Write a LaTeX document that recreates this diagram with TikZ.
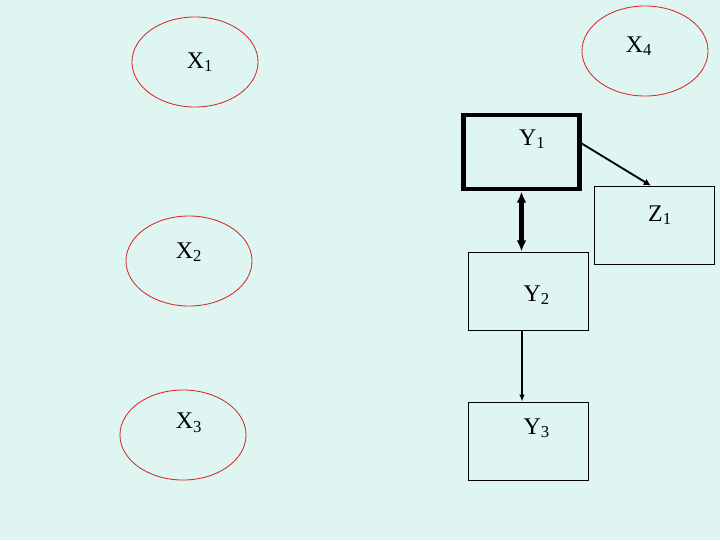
\documentclass[tikz,border=0pt]{standalone}
\usepackage{fontspec}
\setmainfont{Liberation Serif}
\usepackage{tikz}
\usetikzlibrary{shapes.geometric,arrows.meta}
\definecolor{bgcol}{RGB}{222,245,242}
\definecolor{ovalred}{RGB}{214,40,40}

\begin{document}
\begin{tikzpicture}[
x=0.025cm, y=-0.025cm,
var/.style={ellipse, draw=ovalred, line width=0.6pt, minimum width=3.15cm, minimum height=2.25cm},
box/.style={draw, line width=0.6pt, minimum width=3cm, minimum height=1.95cm},
tag/.style={font=\fontsize{17}{20}\selectfont},
>=Latex
]
\fill[bgcol] (0,0) rectangle (720,540);
\useasboundingbox (0,0) rectangle (720,540);

% ovals
\node (x1) [var] at (195,62) {};
\node (x2) [var] at (189,261) {};
\node (x3) [var] at (183,435) {};
\node (x4) [var] at (645,51) {};

\node [tag] at ([xshift=0.125cm]x1.center) {X\textsubscript{1}};
\node [tag] at ([yshift=0.22cm]x2.center) {X\textsubscript{2}};
\node [tag] at ([xshift=0.15cm, yshift=0.3cm]x3.center) {X\textsubscript{3}};
\node [tag] at ([xshift=-0.15cm, yshift=0.12cm]x4.center) {X\textsubscript{4}};

% boxes
\node (y1) [box, line width=3.2pt, minimum width=2.9cm, minimum height=1.86cm] at (521.5,152) {};
\node (z1) [box] at (654,225) {};
\node (y2) [box] at (528,291) {};
\node (y3) [box] at (528,441) {};

\node [tag] at ([xshift=0.27cm, yshift=0.32cm]y1.center) {Y\textsubscript{1}};
\node [tag] at ([xshift=0.15cm, yshift=0.25cm]z1.center) {Z\textsubscript{1}};
\node [tag] at ([xshift=0.22cm, yshift=-0.1cm]y2.center) {Y\textsubscript{2}};
\node [tag] at ([xshift=0.22cm, yshift=0.32cm]y3.center) {Y\textsubscript{3}};

% links
\draw[-{Latex[length=5pt,width=5pt]}, line width=1.3pt] (y1.8) -- ([xshift=-0.08cm]z1.north);
\draw[{Latex[length=8pt,width=7pt]}-{Latex[length=8pt,width=7pt]}, line width=3pt] (y1.south) -- (y1.south |- y2.north);
\draw[-{Latex[length=5pt,width=4pt]}, line width=1.3pt] ([xshift=-0.15cm]y2.south) -- ([xshift=-0.15cm]y3.north);

\end{tikzpicture}
\end{document}
